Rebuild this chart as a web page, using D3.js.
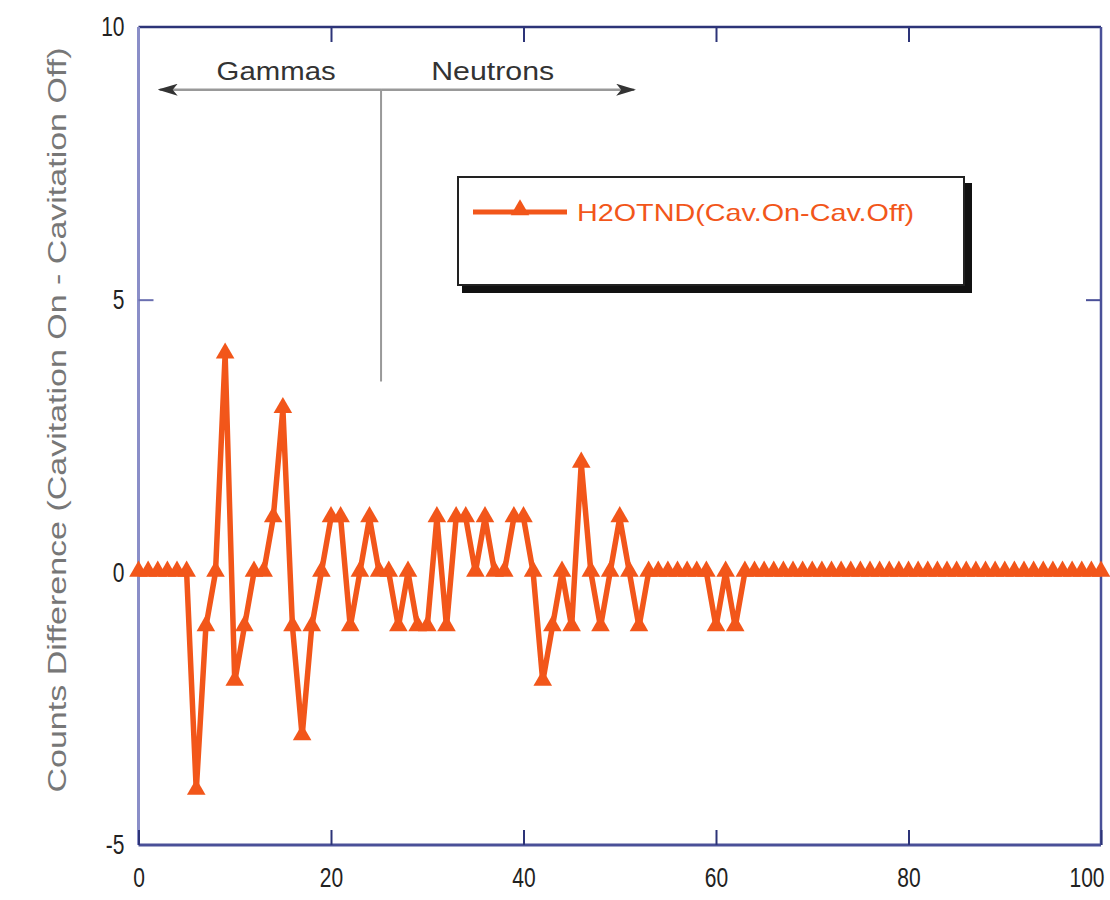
<!DOCTYPE html>
<html>
<head>
<meta charset="utf-8">
<script src="https://cdn.jsdelivr.net/npm/d3@7"></script>
<style>
  body { margin: 0; background: #fff; }
  svg { display: block; }
  text { font-family: "Liberation Sans", Arial, sans-serif; }
</style>
</head>
<body>
<div id="chart"></div>
<script>
// channel number 0..100
var channels = d3.range(0, 101);

// counts difference, cavitation on - cavitation off
var diffs = [
  0, 0, 0, 0, 0, 0, -4, -1, 0, 4,
  -2, -1, 0, 0, 1, 3, -1, -3, -1, 0,
  1, 1, -1, 0, 1, 0, 0, -1, 0, -1,
  -1, 1, -1, 1, 1, 0, 1, 0, 0, 1,
  1, 0, -2, -1, 0, -1, 2, 0, -1, 0,
  1, 0, -1, 0, 0, 0, 0, 0, 0, 0,
  -1, 0, -1, 0, 0, 0, 0, 0, 0, 0,
  0, 0, 0, 0, 0, 0, 0, 0, 0, 0,
  0, 0, 0, 0, 0, 0, 0, 0, 0, 0,
  0, 0, 0, 0, 0, 0, 0, 0, 0, 0,
  0
];

var xTicks = [0, 20, 40, 60, 80, 100];
var yTicks = [-5, 0, 5, 10];
var seriesName = "H2OTND(Cav.On-Cav.Off)";
var yLabel = "Counts Difference (Cavitation On - Cavitation Off)";

// gamma / neutron split annotation (data units)
var splitX = 25.2;
var arrowY = 8.85;
var arrowFrom = 2.2, arrowTo = 51.5;
var splitBottom = 3.5;

var width = 1110,
    height = 900;
var orange = "#f2561a";

var svg = d3.select("#chart").append("svg")
    .attr("width", width)
    .attr("height", height);

var x = d3.scaleLinear().domain([0, 100]).range([138.5, 1101]);
var y = d3.scaleLinear().domain([-5, 10]).range([845, 27]);

var defs = svg.append("defs");
defs.append("marker")
    .attr("id", "ahead")
    .attr("viewBox", "0 0 20 12")
    .attr("refX", 18).attr("refY", 6)
    .attr("markerWidth", 20).attr("markerHeight", 12)
    .attr("markerUnits", "userSpaceOnUse")
    .attr("orient", "auto-start-reverse")
  .append("path")
    .attr("d", "M0,0 L20,6 L0,12 L5,6 Z")
    .attr("fill", "#333");

// frame
var frame = svg.append("g");
frame.append("line").attr("x1", x(0)).attr("x2", x(100)).attr("y1", y(10)).attr("y2", y(10))
    .attr("stroke", "#2d3478").attr("stroke-width", 2.5);
frame.append("line").attr("x1", x(0)).attr("x2", x(100)).attr("y1", y(-5)).attr("y2", y(-5))
    .attr("stroke", "#4a5098").attr("stroke-width", 3);
frame.append("line").attr("x1", x(0)).attr("x2", x(0)).attr("y1", y(10)).attr("y2", y(-5))
    .attr("stroke", "#8a8ec8").attr("stroke-width", 3);
frame.append("line").attr("x1", x(100)).attr("x2", x(100)).attr("y1", y(10)).attr("y2", y(-5))
    .attr("stroke", "#4a5098").attr("stroke-width", 2.5);

function plain(d) { return String(d); }

// narrow the tick labels, like the condensed face of the original
function squeeze(sel, anchor) {
  sel.each(function() {
    var bx = this.getBBox();
    var ax = anchor === "end" ? bx.x + bx.width : bx.x + bx.width / 2;
    d3.select(this).attr("transform", "translate(" + ax + ",0) scale(0.75,1) translate(" + (-ax) + ",0)");
  });
}

// inward ticks on all four sides
var xAxisB = d3.axisBottom(x).tickValues(xTicks).tickSizeInner(-15).tickSizeOuter(0).tickPadding(22).tickFormat(plain);
var gxb = svg.append("g").attr("transform", "translate(0," + y(-5) + ")").call(xAxisB);
gxb.select(".domain").remove();
gxb.selectAll(".tick line").attr("stroke", "#2d3478").attr("stroke-width", 2);
gxb.selectAll(".tick text").attr("font-size", 28).attr("fill", "#222");
gxb.selectAll(".tick text").filter(function(d) { return d === 100; })
    .attr("text-anchor", "end").attr("x", 3);
gxb.selectAll(".tick text").filter(function(d) { return d !== 100; }).call(squeeze, "middle");
gxb.selectAll(".tick text").filter(function(d) { return d === 100; }).call(squeeze, "end");

var xAxisT = d3.axisTop(x).tickValues(xTicks.slice(1, -1)).tickSizeInner(-15).tickSizeOuter(0).tickFormat("");
var gxt = svg.append("g").attr("transform", "translate(0," + y(10) + ")").call(xAxisT);
gxt.select(".domain").remove();
gxt.selectAll(".tick line").attr("stroke", "#2d3478").attr("stroke-width", 2);

var yAxisL = d3.axisLeft(y).tickValues(yTicks).tickSizeInner(-15).tickSizeOuter(0).tickPadding(14).tickFormat(plain);
var gyl = svg.append("g").attr("transform", "translate(" + x(0) + ",0)").call(yAxisL);
gyl.select(".domain").remove();
gyl.selectAll(".tick line").attr("stroke", "#6a6fb0").attr("stroke-width", 2)
    .filter(function(d) { return d === -5 || d === 10; }).remove();
gyl.selectAll(".tick text").attr("font-size", 28).attr("fill", "#222");
gyl.selectAll(".tick text").call(squeeze, "end");

var yAxisR = d3.axisRight(y).tickValues([0, 5]).tickSizeInner(-15).tickSizeOuter(0).tickFormat("");
var gyr = svg.append("g").attr("transform", "translate(" + x(100) + ",0)").call(yAxisR);
gyr.select(".domain").remove();
gyr.selectAll(".tick line").attr("stroke", "#4a5098").attr("stroke-width", 2);

// y label
svg.append("text")
    .attr("transform", "translate(66," + ((y(10) + y(-5)) / 2 - 16) + ") rotate(-90)")
    .attr("text-anchor", "middle")
    .attr("font-size", 25)
    .attr("fill", "#777")
    .attr("textLength", 745)
    .attr("lengthAdjust", "spacingAndGlyphs")
    .text(yLabel);

// gamma / neutron annotation
svg.append("line")
    .attr("x1", x(splitX)).attr("x2", x(arrowFrom))
    .attr("y1", y(arrowY)).attr("y2", y(arrowY))
    .attr("stroke", "#999").attr("stroke-width", 2.5)
    .attr("marker-end", "url(#ahead)");
svg.append("line")
    .attr("x1", x(splitX)).attr("x2", x(arrowTo))
    .attr("y1", y(arrowY)).attr("y2", y(arrowY))
    .attr("stroke", "#999").attr("stroke-width", 2.5)
    .attr("marker-end", "url(#ahead)");
svg.append("line")
    .attr("x1", x(splitX)).attr("x2", x(splitX))
    .attr("y1", y(arrowY)).attr("y2", y(splitBottom))
    .attr("stroke", "#999").attr("stroke-width", 2);
svg.append("text")
    .attr("x", x(14.3)).attr("y", y(arrowY) - 10)
    .attr("text-anchor", "middle").attr("font-size", 25).attr("fill", "#333")
    .attr("textLength", 119).attr("lengthAdjust", "spacingAndGlyphs")
    .text("Gammas");
svg.append("text")
    .attr("x", x(36.8)).attr("y", y(arrowY) - 10)
    .attr("text-anchor", "middle").attr("font-size", 25).attr("fill", "#333")
    .attr("textLength", 123).attr("lengthAdjust", "spacingAndGlyphs")
    .text("Neutrons");

// series
var pts = channels.map(function(c, i) { return { x: c, y: diffs[i] }; });

var line = d3.line()
    .x(function(d) { return x(d.x); })
    .y(function(d) { return y(d.y); });

svg.append("path")
    .datum(pts)
    .attr("fill", "none")
    .attr("stroke", orange)
    .attr("stroke-width", 5.5)
    .attr("stroke-linejoin", "miter")
    .attr("d", line);

var tri = d3.symbol().type(d3.symbolTriangle).size(150);
svg.append("g").selectAll("path")
    .data(pts)
    .enter().append("path")
    .attr("transform", function(d) { return "translate(" + x(d.x) + "," + (y(d.y) - 1) + ")"; })
    .attr("d", tri)
    .attr("fill", orange);

// legend box with drop shadow
var lg = svg.append("g");
lg.append("rect").attr("x", 462).attr("y", 183).attr("width", 510).attr("height", 110).attr("fill", "#111");
lg.append("rect").attr("x", 458).attr("y", 177).attr("width", 506).attr("height", 108)
    .attr("fill", "#fff").attr("stroke", "#222").attr("stroke-width", 2);
lg.append("line").attr("x1", 473).attr("x2", 567).attr("y1", 212).attr("y2", 212)
    .attr("stroke", orange).attr("stroke-width", 5);
lg.append("path").attr("transform", "translate(520,210)").attr("d", tri).attr("fill", orange);
lg.append("text").attr("x", 577).attr("y", 221)
    .attr("font-size", 24).attr("fill", orange)
    .attr("textLength", 337).attr("lengthAdjust", "spacingAndGlyphs")
    .text(seriesName);
</script>
</body>
</html>
